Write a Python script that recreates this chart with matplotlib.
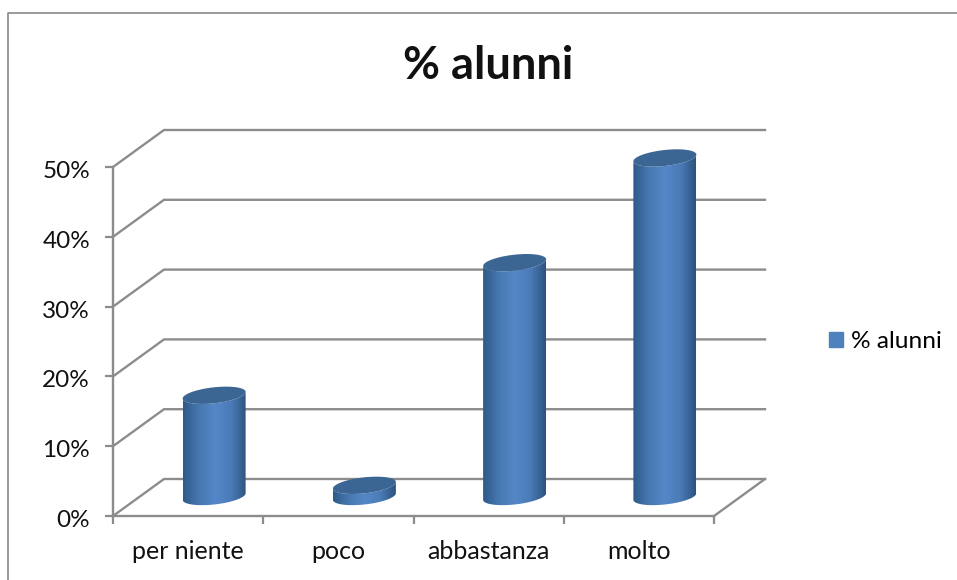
import numpy as np
import matplotlib
matplotlib.use('Agg')
import matplotlib.pyplot as plt
from matplotlib.colors import LinearSegmentedColormap
from matplotlib.lines import Line2D
from matplotlib.patches import PathPatch, Patch
from matplotlib.path import Path
from matplotlib.transforms import ScaledTranslation

categories = ['per niente', 'poco', 'abbastanza', 'molto']
values = [14.5, 1.6, 33.5, 48.5]
y_ticks = [0, 10, 20, 30, 40, 50]
y_labels = ['0%', '10%', '20%', '30%', '40%', '50%']
series_name = '% alunni'

plt.rcParams['font.family'] = ['Lato', 'DejaVu Sans']
W, H = 957, 580
GREY = '#8c8c8c'
TILT = 0.105

fig = plt.figure(figsize=(W / 100, H / 100), dpi=100)
# front plane of the fake 3d box
left, right, top, bottom = 113, 714, 167, 516
ax = fig.add_axes([left / W, 1 - bottom / H, (right - left) / W, (bottom - top) / H])
ax.set_xlim(0, 4)
ax.set_ylim(0, 50)
px = 4 / (right - left)
py = 50 / (bottom - top)

# depth of the box in pixels, converted to data units
dx, dy = 51 * px, 37 * py
for t in y_ticks:
    ax.plot([0, dx, 4 + dx], [t, t + dy, t + dy], color=GREY, lw=1.7, clip_on=False, zorder=1)
ax.plot([4, 4 + dx], [0, dy], color=GREY, lw=1.7, clip_on=False, zorder=1)

cmap = LinearSegmentedColormap.from_list('cyl', ['#2f5a8a', '#4678b0', '#5587c8', '#4b7cb8', '#2c5380'])
grad = np.linspace(0, 1, 128).reshape(1, -1)

for i, v in enumerate(values):
    cx = i + 0.5 + 26 * px
    base = 19.5 * py
    a, b = 31.5, 8
    t = np.linspace(0, 2 * np.pi, 80)
    xt = cx + a * np.cos(t) * px
    yt = base + v + (b * np.sin(t) + TILT * a * np.cos(t)) * py
    # body outline: lower half of the base ellipse and of the top ellipse
    th = np.linspace(np.pi, 2 * np.pi, 40)
    low_x = cx + a * np.cos(th) * px
    low_y = (b * np.sin(th) + TILT * a * np.cos(th)) * py
    verts = np.column_stack([np.r_[low_x, low_x[::-1]],
                             np.r_[base + low_y, base + v + low_y[::-1]]])
    body = PathPatch(Path(verts), fc='none', ec='none', zorder=3, clip_on=False)
    ax.add_patch(body)
    im = ax.imshow(grad, cmap=cmap, aspect='auto', zorder=3,
                   extent=[cx - a * px, cx + a * px, base - 20 * py, base + v + 20 * py])
    im.set_clip_box(fig.bbox)
    im.set_clip_path(body)
    ax.fill(xt, yt, color='#3b6593', lw=0, zorder=4, clip_on=False)
ax.set_xlim(0, 4)
ax.set_ylim(0, 50)

for s in ['top', 'right']:
    ax.spines[s].set_visible(False)
for s in ['left', 'bottom']:
    ax.spines[s].set_color(GREY)
    ax.spines[s].set_linewidth(1.7)
    ax.spines[s].set_zorder(2)
ax.patch.set_visible(False)

ax.set_yticks(y_ticks)
ax.set_yticklabels(y_labels, fontsize=17.5, color='#111111')
ax.set_xticks(range(5))
ax.set_xticklabels([])
ax.set_xticks(np.arange(4) + 0.5, labels=categories, minor=True, fontsize=18, color='#111111')
ax.tick_params(axis='y', length=5.5, width=1.6, color=GREY, pad=11)
ax.tick_params(axis='x', which='major', length=5.5, width=1.6, color=GREY)
ax.tick_params(axis='x', which='minor', length=0, pad=17)
for lab in ax.get_yticklabels():
    lab.set_transform(lab.get_transform() + ScaledTranslation(0, -2.5 / 100, fig.dpi_scale_trans))

fig.text(488 / W, 1 - 66 / H, series_name, ha='center', va='center', fontsize=32.5, fontweight='bold', color='#111111')

ax.legend(handles=[Patch(color='#4f81bd', label=series_name)], loc='center left', frameon=False,
          bbox_to_anchor=(829 / W, 1 - 342 / H), bbox_transform=fig.transFigure, fontsize=17.6,
          handlelength=0.57, handleheight=0.57, handletextpad=0.32, borderpad=0, borderaxespad=0)

# outer chart frame, only top and left show in the crop
fig.add_artist(Line2D([8 / W, 8 / W, 1], [0, 1 - 12.5 / H, 1 - 12.5 / H], color='#8a8a8a', lw=1.2))

fig.savefig('out.png', dpi=100)
